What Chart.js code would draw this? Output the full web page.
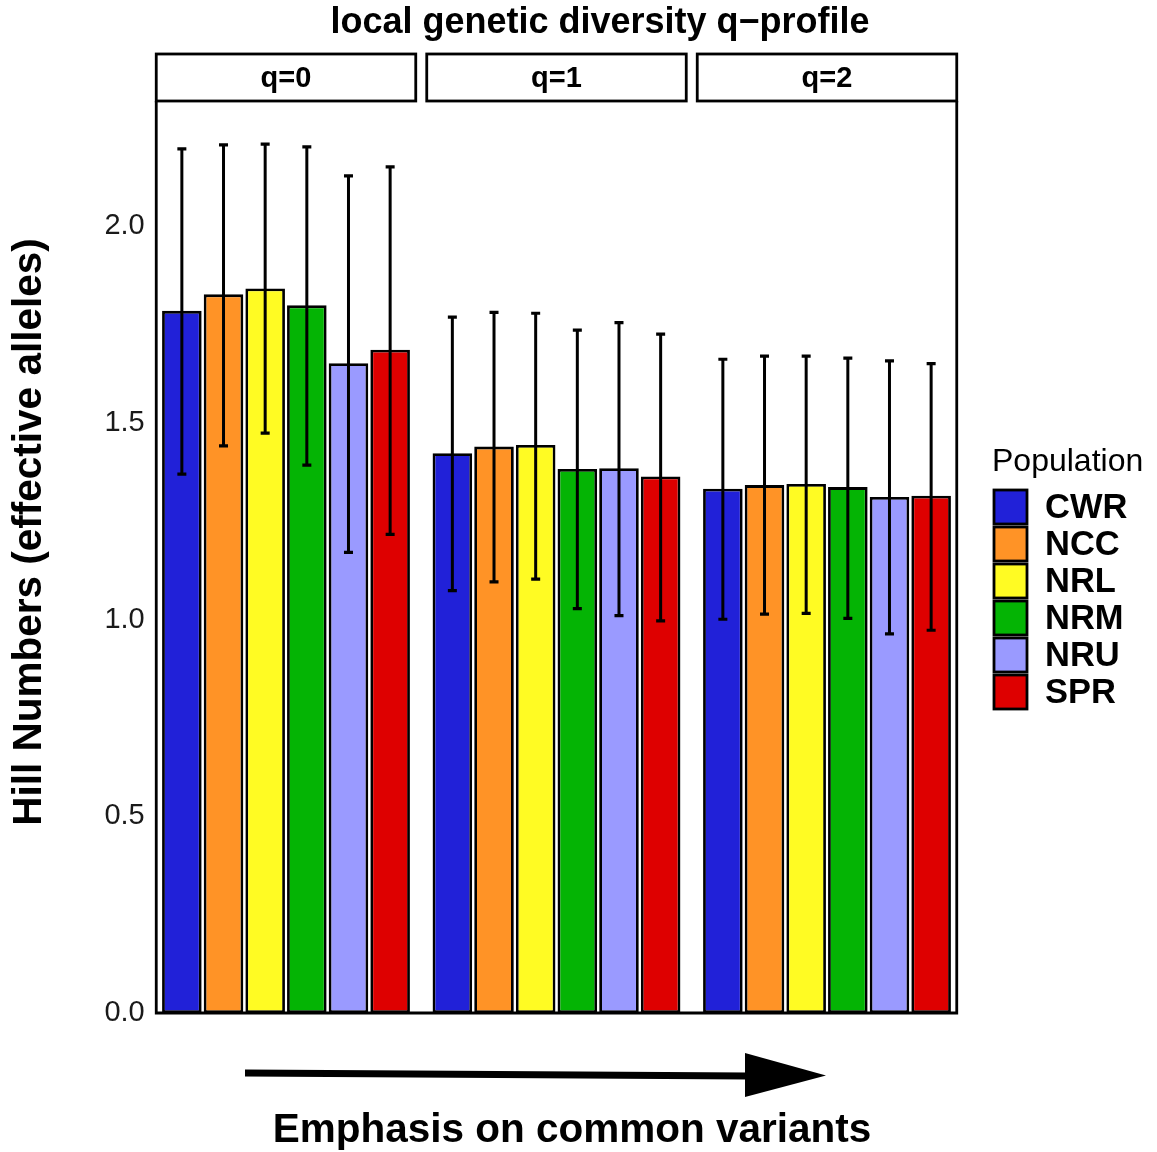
<!DOCTYPE html>
<html><head><meta charset="utf-8">
<script src="https://cdn.jsdelivr.net/npm/chart.js@4.4.1/dist/chart.umd.min.js"></script>
<style>html,body{margin:0;padding:0;background:#fff;}</style>
</head><body>
<canvas id="c" width="1157" height="1152"></canvas>
<script>
// ---- data ----
const categories = ['q=0', 'q=1', 'q=2'];
const populations = ['CWR', 'NCC', 'NRL', 'NRM', 'NRU', 'SPR'];
const popColors = ['#2121D8', '#FF9326', '#FFFB23', '#04B404', '#9A9AFF', '#DE0000'];
const yTicks = [0, 0.5, 1.0, 1.5, 2.0];

const CWR = [1.785, 1.423, 1.333];
const NCC = [1.827, 1.440, 1.342];
const NRL = [1.842, 1.444, 1.345];
const NRM = [1.799, 1.383, 1.337];
const NRU = [1.652, 1.385, 1.312];
const SPR = [1.686, 1.364, 1.315];

const CWR_lo = [1.370, 1.074, 1.001];
const NCC_lo = [1.442, 1.096, 1.014];
const NRL_lo = [1.474, 1.103, 1.016];
const NRM_lo = [1.393, 1.028, 1.003];
const NRU_lo = [1.171, 1.010, 0.964];
const SPR_lo = [1.217, 0.997, 0.973];

const CWR_hi = [2.197, 1.769, 1.662];
const NCC_hi = [2.207, 1.781, 1.670];
const NRL_hi = [2.209, 1.779, 1.670];
const NRM_hi = [2.202, 1.736, 1.665];
const NRU_hi = [2.128, 1.755, 1.658];
const SPR_hi = [2.151, 1.726, 1.651];

const means = [CWR, NCC, NRL, NRM, NRU, SPR];
const lows = [CWR_lo, NCC_lo, NRL_lo, NRM_lo, NRU_lo, SPR_lo];
const highs = [CWR_hi, NCC_hi, NRL_hi, NRM_hi, NRU_hi, SPR_hi];

const titleText = 'local genetic diversity q\u2212profile';
const yTitle = 'Hill Numbers (effective alleles)';
const xTitle = 'Emphasis on common variants';
const legendTitle = 'Population';

const FONT = '"Liberation Sans", Arial, Helvetica, sans-serif';

const deco = {
  id: 'deco',
  afterDatasetsDraw(chart) {
    const ctx = chart.ctx, ca = chart.chartArea, xs = chart.scales.x, ys = chart.scales.y;
    ctx.save();
    // error bars
    ctx.strokeStyle = '#000';
    chart.data.datasets.forEach((ds, di) => {
      const meta = chart.getDatasetMeta(di);
      meta.data.forEach((bar, i) => {
        const x = bar.x;
        const yl = ys.getPixelForValue(lows[di][i]);
        const yh = ys.getPixelForValue(highs[di][i]);
        ctx.lineWidth = 3;
        ctx.beginPath(); ctx.moveTo(x, yh); ctx.lineTo(x, yl); ctx.stroke();
        ctx.lineWidth = 3.2;
        ctx.beginPath(); ctx.moveTo(x - 4.5, yh); ctx.lineTo(x + 4.5, yh);
        ctx.moveTo(x - 4.5, yl); ctx.lineTo(x + 4.5, yl); ctx.stroke();
      });
    });
    // panels & strips
    const n = categories.length;
    const catW = (xs.right - xs.left) / n;
    const gap = 11;
    const panels = categories.map((c, i) => {
      const cx = xs.getPixelForValue(i);
      return { l: cx - catW / 2 + gap / 2, r: cx + catW / 2 - gap / 2, cx };
    });
    const stripTop = ca.top - 48, stripBot = ca.top - 1;
    ctx.lineWidth = 2.8;
    ctx.strokeStyle = '#000';
    ctx.beginPath();
    ctx.moveTo(panels[0].l, stripBot); ctx.lineTo(panels[0].l, ca.bottom);
    ctx.lineTo(panels[n - 1].r, ca.bottom); ctx.lineTo(panels[n - 1].r, stripBot);
    ctx.stroke();
    ctx.font = 'bold 29px ' + FONT;
    ctx.textAlign = 'center'; ctx.textBaseline = 'middle';
    panels.forEach((p, i) => {
      ctx.fillStyle = '#fff';
      ctx.fillRect(p.l, stripTop, p.r - p.l, stripBot - stripTop);
      ctx.strokeRect(p.l, stripTop, p.r - p.l, stripBot - stripTop);
      ctx.fillStyle = '#000';
      ctx.fillText(categories[i], p.cx, (stripTop + stripBot) / 2 + 1);
    });
    // title
    ctx.font = 'bold 36px ' + FONT;
    ctx.fillText(titleText, 600, 23);
    // x title
    ctx.font = 'bold 40.5px ' + FONT;
    ctx.fillText(xTitle, 572, 1131);
    // y title
    ctx.save();
    ctx.translate(30, 532);
    ctx.rotate(-Math.PI / 2);
    ctx.font = 'bold 40.5px ' + FONT;
    ctx.fillText(yTitle, 0, 0);
    ctx.restore();
    // arrow
    ctx.fillStyle = '#000';
    ctx.beginPath();
    ctx.moveTo(245, 1069.5); ctx.lineTo(748, 1072.5); ctx.lineTo(748, 1079.5); ctx.lineTo(245, 1076.5);
    ctx.closePath(); ctx.fill();
    ctx.beginPath();
    ctx.moveTo(745, 1053); ctx.lineTo(826, 1075.5); ctx.lineTo(745, 1097); ctx.closePath(); ctx.fill();
    // legend
    ctx.textAlign = 'left';
    ctx.font = '32px ' + FONT;
    ctx.fillText(legendTitle, 992, 462);
    populations.forEach((p, i) => {
      const top = 490 + i * 37;
      ctx.fillStyle = popColors[i];
      ctx.fillRect(994, top, 33, 34);
      ctx.lineWidth = 2.8; ctx.strokeStyle = '#000';
      ctx.strokeRect(994, top, 33, 34);
      ctx.fillStyle = '#000';
      ctx.font = 'bold 34.5px ' + FONT;
      ctx.fillText(p, 1045, top + 18);
    });
    ctx.restore();
  }
};

new Chart(document.getElementById('c'), {
  type: 'bar',
  data: {
    labels: categories,
    datasets: populations.map((p, i) => ({
      label: p,
      data: means[i],
      backgroundColor: popColors[i],
      borderColor: '#000',
      borderWidth: 2.8,
      borderSkipped: false,
      categoryPercentage: 0.924,
      barPercentage: 0.95
    }))
  },
  options: {
    responsive: false,
    animation: false,
    devicePixelRatio: 1,
    layout: { padding: { left: 0, right: 194.75, top: 102, bottom: 139 } },
    plugins: { legend: { display: false }, tooltip: { enabled: false }, title: { display: false } },
    scales: {
      x: { type: 'category', display: false, offset: true, grid: { display: false } },
      y: {
        min: 0, max: 2.316,
        grid: { display: false, drawTicks: false },
        border: { display: false },
        afterFit(scale) { scale.width = 150.75; },
        afterBuildTicks(scale) { scale.ticks = yTicks.map(v => ({ value: v })); },
        ticks: {
          padding: 6,
          color: '#1a1a1a',
          font: { family: FONT, size: 29 },
          callback: v => Number(v).toFixed(1)
        }
      }
    }
  },
  plugins: [deco]
});
</script>
</body></html>
